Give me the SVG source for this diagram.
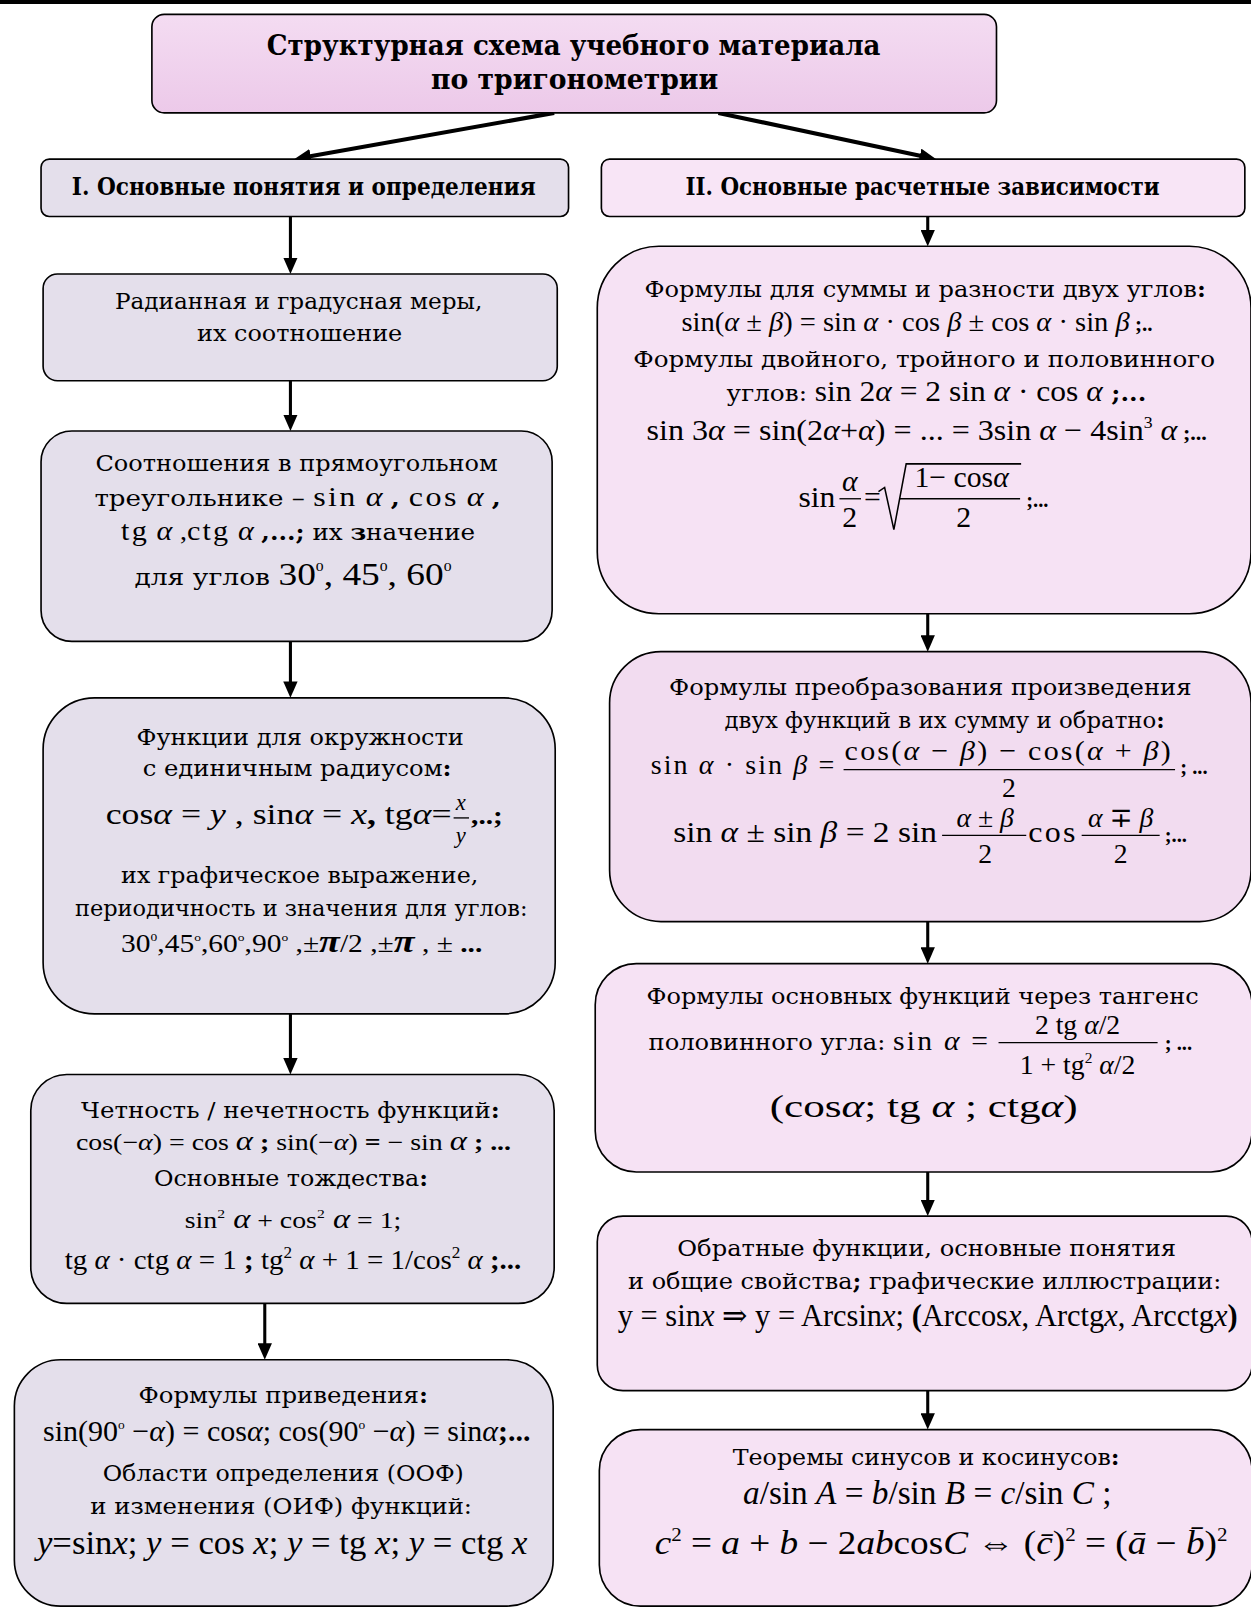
<svg xmlns="http://www.w3.org/2000/svg" width="1251" height="1609" viewBox="0 0 1251 1609">
<style>
.bx{stroke:#000;stroke-width:1.6}
.L{fill:#e4dfeb}
.R{fill:#f6e2f4}
.cy{font-family:"DejaVu Serif","Liberation Serif",serif;font-size:22px;fill:#000}
.hd{font-family:"DejaVu Serif","Liberation Serif",serif;font-size:23px;font-weight:bold;fill:#000}
.tt{font-family:"DejaVu Serif","Liberation Serif",serif;font-size:28px;font-weight:bold;fill:#000}
.m{font-family:"Liberation Serif","Times New Roman","DejaVu Serif",serif;font-size:25px;fill:#000}
.i{font-style:italic}
.b{font-weight:bold}
.ar{stroke:#000;stroke-width:3;fill:none;marker-end:url(#ah)}
.fr{stroke:#000;stroke-width:1.3}
</style>
<defs>
<linearGradient id="gt" x1="0" y1="0" x2="0" y2="1"><stop offset="0" stop-color="#f4dcf2"/><stop offset="1" stop-color="#ecc9e9"/></linearGradient>
<marker id="ah" viewBox="0 0 16 14" refX="6" refY="7" markerWidth="16" markerHeight="14" markerUnits="userSpaceOnUse" orient="auto"><path d="M0,0 L16,7 L0,14 z" fill="#000"/></marker>
</defs>
<rect x="0" y="0" width="1251" height="4" fill="#000"/>
<g transform="scale(1.02625)">
<g id="connectors">
<line class="ar" x1="540" y1="110" x2="296.8" y2="153.2" style="stroke-width:4"/>
<line class="ar" x1="700" y1="110" x2="902.2" y2="152.9" style="stroke-width:4"/>
<line class="ar" x1="283" y1="211" x2="283" y2="257"/>
<line class="ar" x1="283" y1="371" x2="283" y2="410"/>
<line class="ar" x1="283" y1="625" x2="283" y2="670"/>
<line class="ar" x1="283" y1="988" x2="283" y2="1037"/>
<line class="ar" x1="258" y1="1270" x2="258" y2="1315"/>
<line class="ar" x1="904" y1="211" x2="904" y2="230"/>
<line class="ar" x1="904" y1="598" x2="904" y2="625"/>
<line class="ar" x1="904" y1="898" x2="904" y2="929"/>
<line class="ar" x1="904" y1="1142" x2="904" y2="1175"/>
<line class="ar" x1="904" y1="1355" x2="904" y2="1383"/>
</g>

<g id="title">
<rect class="bx" x="148" y="14" width="823" height="96" rx="12" fill="url(#gt)"/>
<text class="tt" x="260" y="54" textLength="598" lengthAdjust="spacingAndGlyphs">Структурная схема учебного материала</text>
<text class="tt" x="420" y="87" textLength="280" lengthAdjust="spacingAndGlyphs">по тригонометрии</text>
</g>

<g id="sec1">
<rect class="bx L" x="40" y="155" width="514" height="56" rx="8"/>
<text class="hd" x="70" y="190" textLength="452" lengthAdjust="spacingAndGlyphs">I. Основные понятия и определения</text>
</g>

<g id="sec2">
<rect class="bx" x="586" y="155" width="627" height="56" rx="8" fill="#f8e5f6"/>
<text class="hd" x="668" y="190" textLength="462" lengthAdjust="spacingAndGlyphs">II. Основные расчетные зависимости</text>
</g>

<g id="l1">
<rect class="bx L" x="42" y="267" width="501" height="104" rx="14"/>
<text class="cy" x="112" y="301" textLength="358" lengthAdjust="spacingAndGlyphs">Радианная и градусная меры,</text>
<text class="cy" x="192" y="332" textLength="200" lengthAdjust="spacingAndGlyphs">их соотношение</text>
</g>

<g id="l2">
<rect class="bx L" x="40" y="420" width="498" height="205" rx="30"/>
<text class="cy" x="93" y="459" textLength="392" lengthAdjust="spacingAndGlyphs">Соотношения в прямоугольном</text>
<text class="cy" x="92" y="493" textLength="396" lengthAdjust="spacingAndGlyphs">треугольнике – <tspan class="m" letter-spacing="2" style="font-size:27px">sin</tspan><tspan class="m i" style="font-size:27px"> α </tspan><tspan class="b">, </tspan><tspan class="m" letter-spacing="2" style="font-size:27px">cos</tspan><tspan class="m i" style="font-size:27px"> α </tspan><tspan class="b">,</tspan></text>
<text class="cy" x="118" y="526" textLength="345" lengthAdjust="spacingAndGlyphs"><tspan class="m" letter-spacing="2" style="font-size:27px">tg</tspan><tspan class="m i" style="font-size:27px"> α </tspan><tspan class="m">,</tspan><tspan class="m" letter-spacing="2" style="font-size:27px">ctg</tspan><tspan class="m i" style="font-size:27px"> α </tspan><tspan class="b">,...;</tspan> их <tspan class="b">з</tspan>начение</text>
<text class="cy" x="131" y="570" textLength="309" lengthAdjust="spacingAndGlyphs">для углов <tspan class="m" style="font-size:31px">30</tspan><tspan class="m" style="font-size:13px" dy="-14">0</tspan><tspan class="m" style="font-size:31px" dy="14">, 45</tspan><tspan class="m" style="font-size:13px" dy="-14">0</tspan><tspan class="m" style="font-size:31px" dy="14">, 60</tspan><tspan class="m" style="font-size:13px" dy="-14">0</tspan></text>
</g>

<g id="l3">
<rect class="bx L" x="42" y="680" width="499" height="308" rx="50"/>
<text class="cy" x="133" y="726" textLength="319" lengthAdjust="spacingAndGlyphs">Функции для окружности</text>
<text class="cy" x="139" y="756" textLength="301" lengthAdjust="spacingAndGlyphs">с единичным радиусом<tspan class="b">:</tspan></text>
<text class="m" x="103" y="803" textLength="337" lengthAdjust="spacingAndGlyphs" style="font-size:29px">cos<tspan class="i">α</tspan> = <tspan class="i">y</tspan> , sin<tspan class="i">α</tspan> = <tspan class="i">x</tspan><tspan class="b">, </tspan>tg<tspan class="i">α</tspan>=</text>
<text class="m i" x="449" y="789" text-anchor="middle" style="font-size:22px">x</text>
<line class="fr" x1="442" y1="797" x2="457" y2="797"/>
<text class="m i" x="449" y="821" text-anchor="middle" style="font-size:22px">y</text>
<text class="m b" x="459" y="803" textLength="31" lengthAdjust="spacingAndGlyphs">,..;</text>
<text class="cy" x="118" y="860" textLength="348" lengthAdjust="spacingAndGlyphs">их графическое выражение,</text>
<text class="cy" x="73" y="893" textLength="441" lengthAdjust="spacingAndGlyphs">периодичность и значения для углов:</text>
<text class="m" x="118" y="928" textLength="352" lengthAdjust="spacingAndGlyphs" style="font-size:24px">30<tspan style="font-size:11px" dy="-11">0</tspan><tspan dy="11">,45</tspan><tspan style="font-size:11px" dy="-11">o</tspan><tspan dy="11">,60</tspan><tspan style="font-size:11px" dy="-11">o</tspan><tspan dy="11">,90</tspan><tspan style="font-size:11px" dy="-11">o</tspan><tspan dy="11"> ,±</tspan><tspan class="i b" style="font-size:31px">π</tspan>/2 ,±<tspan class="i b" style="font-size:31px">π</tspan> , ± <tspan class="b">...</tspan></text>
</g>

<g id="l4">
<rect class="bx L" x="30" y="1047" width="510" height="223" rx="35"/>
<text class="cy" x="79" y="1089" textLength="408" lengthAdjust="spacingAndGlyphs">Четность / нечетность функций<tspan class="b">:</tspan></text>
<text class="m" x="74" y="1121" textLength="424" lengthAdjust="spacingAndGlyphs" style="font-size:23px">cos(−<tspan class="i">α</tspan>) = cos <tspan class="i" style="font-size:27px">α</tspan><tspan class="b"> ; </tspan>sin(−<tspan class="i">α</tspan>) <tspan class="b">=</tspan> − sin <tspan class="i" style="font-size:27px">α</tspan><tspan class="b"> ;  ...</tspan></text>
<text class="cy" x="150" y="1156" textLength="267" lengthAdjust="spacingAndGlyphs">Основные тождества<tspan class="b">:</tspan></text>
<text class="m" x="180" y="1197" textLength="211" lengthAdjust="spacingAndGlyphs" style="font-size:23px">sin<tspan style="font-size:13px" dy="-10">2</tspan><tspan class="i" style="font-size:27px" dy="10"> α</tspan> + cos<tspan style="font-size:13px" dy="-10">2</tspan><tspan class="i" style="font-size:27px" dy="10"> α</tspan> = 1;</text>
<text class="m" x="63" y="1237" textLength="445" lengthAdjust="spacingAndGlyphs" style="font-size:27px">tg <tspan class="i">α</tspan> · ctg <tspan class="i">α</tspan> = 1<tspan class="b"> ; </tspan>tg<tspan style="font-size:16px" dy="-11">2</tspan><tspan class="i" dy="11"> α</tspan> + 1 = 1/cos<tspan style="font-size:16px" dy="-11">2</tspan><tspan class="i" dy="11"> α</tspan><tspan class="b"> ;...</tspan></text>
</g>

<g id="l5">
<rect class="bx L" x="14" y="1325" width="525" height="240" rx="45"/>
<text class="cy" x="135" y="1367" textLength="282" lengthAdjust="spacingAndGlyphs">Формулы приведения<tspan class="b">:</tspan></text>
<text class="m" x="42" y="1404" textLength="475" lengthAdjust="spacingAndGlyphs" style="font-size:29px">sin(90<tspan style="font-size:13px" dy="-12">o</tspan><tspan dy="12"> −</tspan><tspan class="i">α</tspan>) = cos<tspan class="i">α</tspan>; cos(90<tspan style="font-size:13px" dy="-12">o</tspan><tspan dy="12"> −</tspan><tspan class="i">α</tspan>) = sin<tspan class="i">α</tspan><tspan class="b">;...</tspan></text>
<text class="cy" x="100" y="1443" textLength="352" lengthAdjust="spacingAndGlyphs">Области определения (ООФ)</text>
<text class="cy" x="88" y="1475" textLength="372" lengthAdjust="spacingAndGlyphs">и изменения (ОИФ) функций:</text>
<text class="m" x="36" y="1514" textLength="478" lengthAdjust="spacingAndGlyphs" style="font-size:32px"><tspan class="i">y</tspan>=sin<tspan class="i">x</tspan>; <tspan class="i">y</tspan> = cos <tspan class="i">x</tspan>;  <tspan class="i">y</tspan> = tg <tspan class="i">x</tspan>;  <tspan class="i">y</tspan> = ctg <tspan class="i">x</tspan></text>
</g>

<g id="r1">
<rect class="bx R" x="582" y="240" width="637" height="358" rx="60"/>
<text class="cy" x="628" y="289" textLength="547" lengthAdjust="spacingAndGlyphs">Формулы для суммы и разности двух углов<tspan class="b">:</tspan></text>
<text class="m" x="664" y="323" textLength="459" lengthAdjust="spacingAndGlyphs" style="font-size:27px">sin(<tspan class="i">α</tspan> ± <tspan class="i">β</tspan>) = sin <tspan class="i">α</tspan> · cos <tspan class="i">β</tspan> ± cos <tspan class="i">α</tspan> · sin <tspan class="i">β</tspan><tspan class="b" style="font-size:20px"> ;..</tspan></text>
<text class="cy" x="617" y="358" textLength="567" lengthAdjust="spacingAndGlyphs">Формулы  двойного, тройного и половинного</text>
<text class="cy" x="708" y="391" textLength="409" lengthAdjust="spacingAndGlyphs">углов: <tspan class="m" style="font-size:28px">sin 2<tspan class="i">α</tspan> = 2 sin <tspan class="i">α</tspan> · cos <tspan class="i">α</tspan></tspan><tspan class="b"> ;...</tspan></text>
<text class="m" x="630" y="429" textLength="546" lengthAdjust="spacingAndGlyphs" style="font-size:29px">sin 3<tspan class="i">α</tspan> = sin(2<tspan class="i">α</tspan>+<tspan class="i">α</tspan>) = ... = 3sin <tspan class="i">α</tspan> − 4sin<tspan style="font-size:16px" dy="-12">3</tspan><tspan class="i" dy="12"> α</tspan><tspan class="b" style="font-size:20px"> ;...</tspan></text>
<text class="m" x="778" y="494" textLength="36" lengthAdjust="spacingAndGlyphs" style="font-size:29px">sin</text>
<text class="m i" x="828" y="478" text-anchor="middle" style="font-size:29px">α</text>
<line class="fr" x1="818" y1="486" x2="839" y2="486"/>
<text class="m" x="828" y="514" text-anchor="middle" style="font-size:29px">2</text>
<text class="m" x="842" y="494" style="font-size:29px">=</text>
<path d="M856,479 L862,475 L871,516 L883,452 L995,452" fill="none" stroke="#000" stroke-width="1.5"/>
<text class="m" x="937" y="475" text-anchor="middle" style="font-size:29px">1− cos<tspan class="i">α</tspan></text>
<line class="fr" x1="876" y1="486" x2="994" y2="486"/>
<text class="m" x="939" y="514" text-anchor="middle" style="font-size:29px">2</text>
<text class="m b" x="1000" y="494" style="font-size:20px">;...</text>
</g>

<g id="r2">
<rect class="bx" x="594" y="635" width="625" height="263" rx="50" fill="#f2dcf0"/>
<text class="cy" x="652" y="677" textLength="509" lengthAdjust="spacingAndGlyphs">Формулы преобразования произведения</text>
<text class="cy" x="706" y="709" textLength="429" lengthAdjust="spacingAndGlyphs">двух  функций в их сумму и обратно<tspan class="b">:</tspan></text>
<text class="m" x="634" y="754" textLength="181" lengthAdjust="spacingAndGlyphs" style="font-size:27px" letter-spacing="2">sin <tspan class="i">α</tspan> · sin <tspan class="i">β</tspan> =</text>
<text class="m" x="823" y="741" textLength="320" lengthAdjust="spacingAndGlyphs" style="font-size:27px" letter-spacing="2">cos(<tspan class="i">α</tspan> − <tspan class="i">β</tspan>) − cos(<tspan class="i">α</tspan> + <tspan class="i">β</tspan>)</text>
<line class="fr" x1="822" y1="750" x2="1145" y2="750"/>
<text class="m" x="983" y="777" text-anchor="middle" style="font-size:27px">2</text>
<text class="m b" x="1150" y="754" style="font-size:20px">; ...</text>
<text class="m" x="656" y="820" textLength="257" lengthAdjust="spacingAndGlyphs" style="font-size:29px">sin <tspan class="i">α</tspan> ± sin <tspan class="i">β</tspan> = 2 sin</text>
<text class="m" x="960" y="806" text-anchor="middle" style="font-size:27px"><tspan class="i">α</tspan> ± <tspan class="i">β</tspan></text>
<line class="fr" x1="918" y1="814" x2="1000" y2="814"/>
<text class="m" x="960" y="841" text-anchor="middle" style="font-size:27px">2</text>
<text class="m" x="1002" y="820" textLength="48" lengthAdjust="spacingAndGlyphs" style="font-size:29px" letter-spacing="2">cos</text>
<text class="m" x="1092" y="806" text-anchor="middle" style="font-size:27px"><tspan class="i">α</tspan> ∓ <tspan class="i">β</tspan></text>
<line class="fr" x1="1054" y1="814" x2="1130" y2="814"/>
<text class="m" x="1092" y="841" text-anchor="middle" style="font-size:27px">2</text>
<text class="m b" x="1135" y="820" style="font-size:20px">;...</text>
</g>

<g id="r3">
<rect class="bx R" x="580" y="939" width="640" height="203" rx="40"/>
<text class="cy" x="630" y="978" textLength="538" lengthAdjust="spacingAndGlyphs">Формулы основных функций через тангенс</text>
<text class="cy" x="632" y="1023" textLength="333" lengthAdjust="spacingAndGlyphs">половинного угла: <tspan class="m" style="font-size:27px" letter-spacing="2">sin <tspan class="i">α</tspan> =</tspan></text>
<text class="m" x="1050" y="1008" text-anchor="middle" style="font-size:27px">2 tg <tspan class="i">α</tspan>/2</text>
<line class="fr" x1="973" y1="1016" x2="1128" y2="1016"/>
<text class="m" x="1050" y="1047" text-anchor="middle" style="font-size:27px">1 + tg<tspan style="font-size:15px" dy="-11">2</tspan><tspan class="i" dy="11"> α</tspan>/2</text>
<text class="m b" x="1135" y="1023" style="font-size:20px">; ...</text>
<text class="m" x="750" y="1088" textLength="300" lengthAdjust="spacingAndGlyphs" style="font-size:30px">(cos<tspan class="i">α</tspan>;  tg <tspan class="i">α</tspan> ;  ctg<tspan class="i">α</tspan>)</text>
</g>

<g id="r4">
<rect class="bx R" x="582" y="1185" width="638" height="170" rx="25"/>
<text class="cy" x="660" y="1224" textLength="486" lengthAdjust="spacingAndGlyphs">Обратные функции, основные понятия</text>
<text class="cy" x="612" y="1256" textLength="578" lengthAdjust="spacingAndGlyphs">и общие свойства<tspan class="b">;</tspan> графические иллюстрации:</text>
<text class="m" x="602" y="1292" textLength="604" lengthAdjust="spacingAndGlyphs" style="font-size:30px">y = sin<tspan class="i">x</tspan> ⇒ y = Arcsin<tspan class="i">x</tspan>;<tspan class="b"> (</tspan>Arccos<tspan class="i">x</tspan>, Arctg<tspan class="i">x</tspan>, Arcctg<tspan class="i">x</tspan><tspan class="b">)</tspan></text>
</g>

<g id="r5">
<rect class="bx R" x="584" y="1393" width="636" height="172" rx="40"/>
<text class="cy" x="714" y="1428" textLength="377" lengthAdjust="spacingAndGlyphs">Теоремы синусов и косинусов<tspan class="b">:</tspan></text>
<text class="m" x="724" y="1466" textLength="359" lengthAdjust="spacingAndGlyphs" style="font-size:32px"><tspan class="i">a</tspan>/sin <tspan class="i">A</tspan> = <tspan class="i">b</tspan>/sin <tspan class="i">B</tspan> = <tspan class="i">c</tspan>/sin <tspan class="i">C</tspan> ;</text>
<text class="m" x="638" y="1514" textLength="558" lengthAdjust="spacingAndGlyphs" style="font-size:32px"><tspan class="i">c</tspan><tspan style="font-size:18px" dy="-12">2</tspan><tspan dy="12"> = </tspan><tspan class="i">a</tspan> + <tspan class="i">b</tspan> − 2<tspan class="i">ab</tspan>cos<tspan class="i">C</tspan> ⇔ (<tspan class="i">c̄</tspan>)<tspan style="font-size:18px" dy="-12">2</tspan><tspan dy="12"> = (</tspan><tspan class="i">ā</tspan> − <tspan class="i">b̄</tspan>)<tspan style="font-size:18px" dy="-12">2</tspan></text>
</g>
</g>
</svg>
